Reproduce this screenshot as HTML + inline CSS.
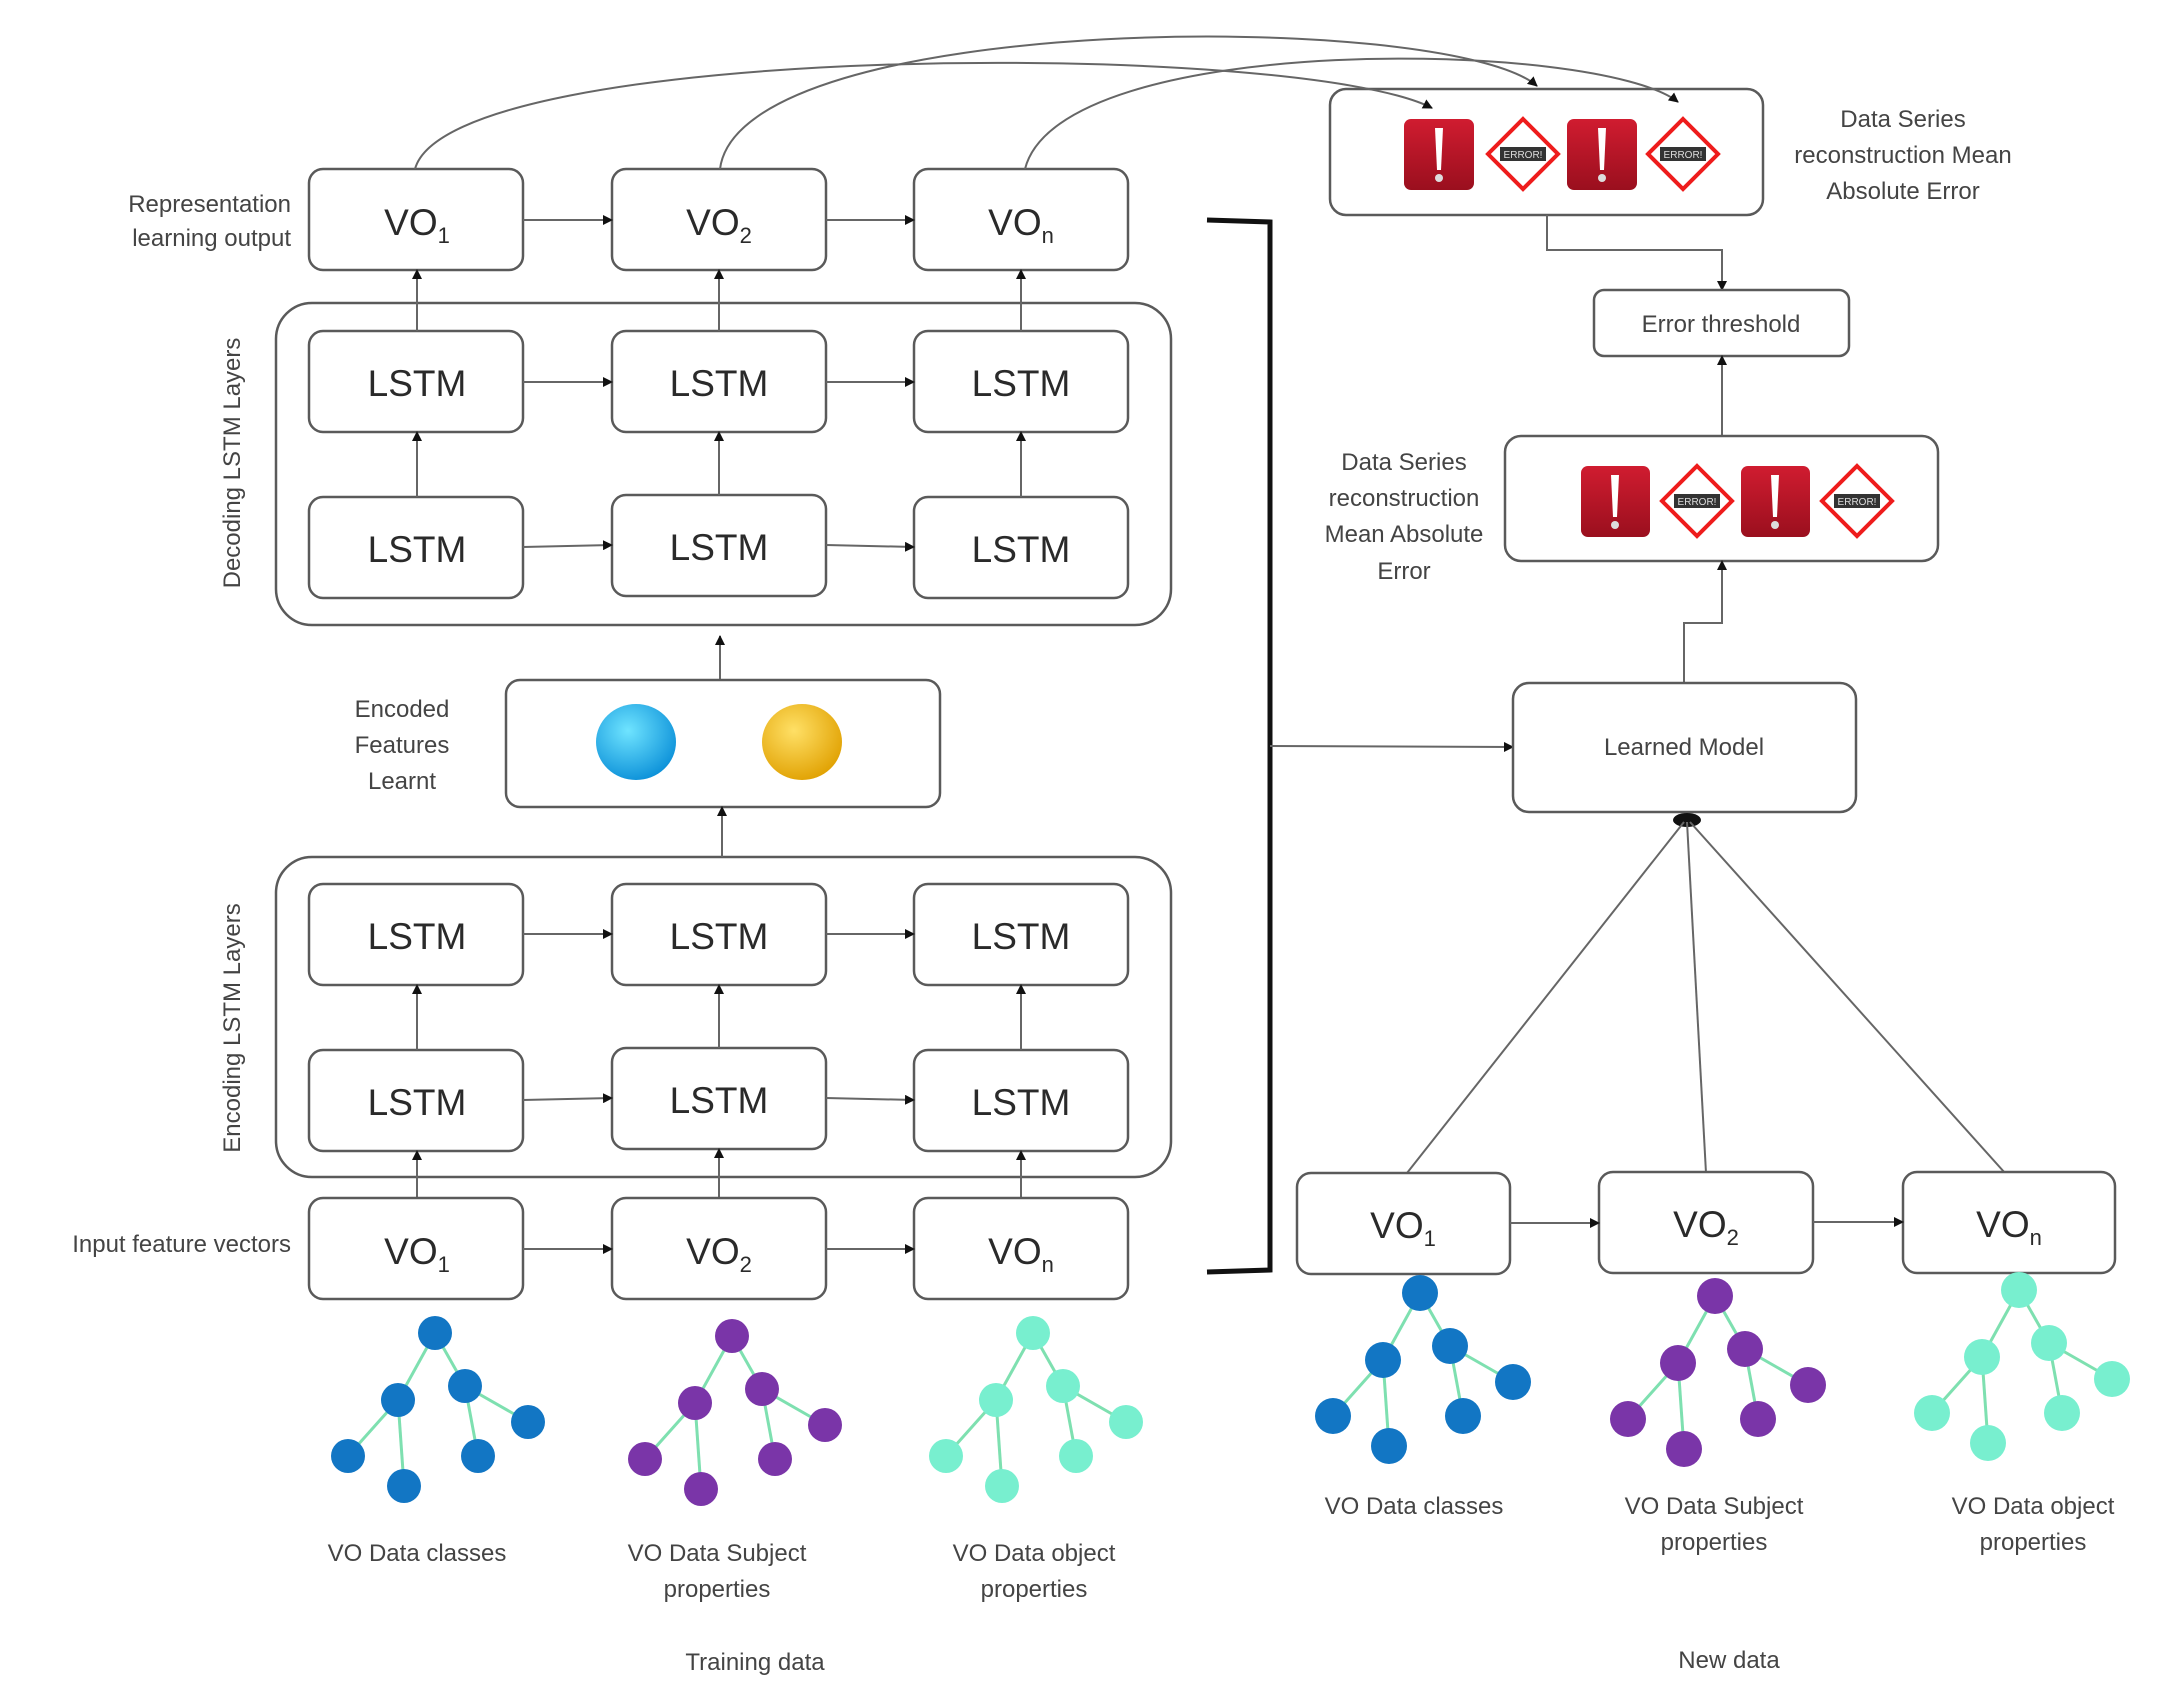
<!DOCTYPE html>
<html><head><meta charset="utf-8"><style>
html,body{margin:0;padding:0;background:#fff;}
svg{display:block;}
text{font-family:"Liberation Sans",sans-serif;}
.lbl{fill:#444;font-size:24px;}
.bx{fill:#fff;stroke:#5a5a5a;stroke-width:2.5;}
.ln{stroke:#666;stroke-width:2;fill:none;}
.vo{font-size:37px;fill:#2a2a2a;}
.sub{font-size:22px;}
.ls{font-size:37px;fill:#2a2a2a;}
.ed{stroke:#7ee0b0;stroke-width:3;}
</style></head><body>
<svg width="2171" height="1708" viewBox="0 0 2171 1708" xmlns="http://www.w3.org/2000/svg">
<defs>
<marker id="ar" markerWidth="10" markerHeight="10" refX="9" refY="5" orient="auto" markerUnits="userSpaceOnUse"><path d="M0,0 L10,5 L0,10 z" fill="#111"/></marker>
<linearGradient id="rg" x1="0" y1="0" x2="0" y2="1"><stop offset="0" stop-color="#d01c30"/><stop offset="1" stop-color="#9a0f1e"/></linearGradient>
<radialGradient id="bg" cx="0.4" cy="0.35" r="0.7"><stop offset="0" stop-color="#6fe4ff"/><stop offset="1" stop-color="#0a8fd8"/></radialGradient>
<radialGradient id="yg" cx="0.4" cy="0.35" r="0.7"><stop offset="0" stop-color="#ffe066"/><stop offset="1" stop-color="#e0a000"/></radialGradient>
</defs>

<!-- left labels -->
<text class="lbl" x="291" y="212" text-anchor="end">Representation</text>
<text class="lbl" x="291" y="246" text-anchor="end">learning output</text>
<text class="lbl" transform="translate(240,463) rotate(-90)" text-anchor="middle">Decoding  LSTM Layers</text>
<text class="lbl" transform="translate(240,1028) rotate(-90)" text-anchor="middle">Encoding LSTM Layers</text>
<text class="lbl" x="402" y="717" text-anchor="middle">Encoded</text>
<text class="lbl" x="402" y="753" text-anchor="middle">Features</text>
<text class="lbl" x="402" y="789" text-anchor="middle">Learnt</text>
<text class="lbl" x="291" y="1252" text-anchor="end">Input feature vectors</text>

<!-- outer layers -->
<rect class="bx" x="276" y="303" width="895" height="322" rx="36"/>
<rect class="bx" x="276" y="857" width="895" height="320" rx="36"/>

<!-- VO output row -->
<rect class="bx" x="309" y="169" width="214" height="101" rx="14"/>
<rect class="bx" x="612" y="169" width="214" height="101" rx="14"/>
<rect class="bx" x="914" y="169" width="214" height="101" rx="14"/>
<text class="vo" x="417" y="235" text-anchor="middle">VO<tspan class="sub" dy="8">1</tspan></text>
<text class="vo" x="719" y="235" text-anchor="middle">VO<tspan class="sub" dy="8">2</tspan></text>
<text class="vo" x="1021" y="235" text-anchor="middle">VO<tspan class="sub" dy="8">n</tspan></text>
<path class="ln" d="M523,220 L612,220" marker-end="url(#ar)"/>
<path class="ln" d="M826,220 L914,220" marker-end="url(#ar)"/>

<!-- decoding LSTM -->
<g>
<rect class="bx" x="309" y="331" width="214" height="101" rx="14"/>
<rect class="bx" x="612" y="331" width="214" height="101" rx="14"/>
<rect class="bx" x="914" y="331" width="214" height="101" rx="14"/>
<rect class="bx" x="309" y="497" width="214" height="101" rx="14"/>
<rect class="bx" x="612" y="495" width="214" height="101" rx="14"/>
<rect class="bx" x="914" y="497" width="214" height="101" rx="14"/>
<text class="ls" x="417" y="396" text-anchor="middle">LSTM</text>
<text class="ls" x="719" y="396" text-anchor="middle">LSTM</text>
<text class="ls" x="1021" y="396" text-anchor="middle">LSTM</text>
<text class="ls" x="417" y="562" text-anchor="middle">LSTM</text>
<text class="ls" x="719" y="560" text-anchor="middle">LSTM</text>
<text class="ls" x="1021" y="562" text-anchor="middle">LSTM</text>
<path class="ln" d="M523,382 L612,382" marker-end="url(#ar)"/>
<path class="ln" d="M826,382 L914,382" marker-end="url(#ar)"/>
<path class="ln" d="M523,547 L612,545" marker-end="url(#ar)"/>
<path class="ln" d="M826,545 L914,547" marker-end="url(#ar)"/>
<path class="ln" d="M417,497 L417,432" marker-end="url(#ar)"/>
<path class="ln" d="M719,495 L719,432" marker-end="url(#ar)"/>
<path class="ln" d="M1021,497 L1021,432" marker-end="url(#ar)"/>
<path class="ln" d="M417,331 L417,270" marker-end="url(#ar)"/>
<path class="ln" d="M719,331 L719,270" marker-end="url(#ar)"/>
<path class="ln" d="M1021,331 L1021,270" marker-end="url(#ar)"/>
</g>

<!-- encoded features -->
<path class="ln" d="M720,680 L720,636" marker-end="url(#ar)"/>
<rect class="bx" x="506" y="680" width="434" height="127" rx="14"/>
<ellipse cx="636" cy="742" rx="40" ry="38" fill="url(#bg)"/>
<ellipse cx="802" cy="742" rx="40" ry="38" fill="url(#yg)"/>
<path class="ln" d="M722,857 L722,807" marker-end="url(#ar)"/>

<!-- encoding LSTM -->
<rect class="bx" x="309" y="884" width="214" height="101" rx="14"/>
<rect class="bx" x="612" y="884" width="214" height="101" rx="14"/>
<rect class="bx" x="914" y="884" width="214" height="101" rx="14"/>
<rect class="bx" x="309" y="1050" width="214" height="101" rx="14"/>
<rect class="bx" x="612" y="1048" width="214" height="101" rx="14"/>
<rect class="bx" x="914" y="1050" width="214" height="101" rx="14"/>
<text class="ls" x="417" y="949" text-anchor="middle">LSTM</text>
<text class="ls" x="719" y="949" text-anchor="middle">LSTM</text>
<text class="ls" x="1021" y="949" text-anchor="middle">LSTM</text>
<text class="ls" x="417" y="1115" text-anchor="middle">LSTM</text>
<text class="ls" x="719" y="1113" text-anchor="middle">LSTM</text>
<text class="ls" x="1021" y="1115" text-anchor="middle">LSTM</text>
<path class="ln" d="M523,934 L612,934" marker-end="url(#ar)"/>
<path class="ln" d="M826,934 L914,934" marker-end="url(#ar)"/>
<path class="ln" d="M523,1100 L612,1098" marker-end="url(#ar)"/>
<path class="ln" d="M826,1098 L914,1100" marker-end="url(#ar)"/>
<path class="ln" d="M417,1050 L417,985" marker-end="url(#ar)"/>
<path class="ln" d="M719,1048 L719,985" marker-end="url(#ar)"/>
<path class="ln" d="M1021,1050 L1021,985" marker-end="url(#ar)"/>
<path class="ln" d="M417,1198 L417,1151" marker-end="url(#ar)"/>
<path class="ln" d="M719,1198 L719,1149" marker-end="url(#ar)"/>
<path class="ln" d="M1021,1198 L1021,1151" marker-end="url(#ar)"/>

<!-- input VO row -->
<rect class="bx" x="309" y="1198" width="214" height="101" rx="14"/>
<rect class="bx" x="612" y="1198" width="214" height="101" rx="14"/>
<rect class="bx" x="914" y="1198" width="214" height="101" rx="14"/>
<text class="vo" x="417" y="1264" text-anchor="middle">VO<tspan class="sub" dy="8">1</tspan></text>
<text class="vo" x="719" y="1264" text-anchor="middle">VO<tspan class="sub" dy="8">2</tspan></text>
<text class="vo" x="1021" y="1264" text-anchor="middle">VO<tspan class="sub" dy="8">n</tspan></text>
<path class="ln" d="M523,1249 L612,1249" marker-end="url(#ar)"/>
<path class="ln" d="M826,1249 L914,1249" marker-end="url(#ar)"/>

<!-- trees: training -->
<g>
<g class="ed"><line x1="435" y1="1333" x2="398" y2="1400"/><line x1="435" y1="1333" x2="465" y2="1386"/><line x1="398" y1="1400" x2="348" y2="1456"/><line x1="398" y1="1400" x2="404" y2="1486"/><line x1="465" y1="1386" x2="528" y2="1422"/><line x1="465" y1="1386" x2="478" y2="1456"/></g>
<g fill="#1276c4"><circle cx="435" cy="1333" r="17"/><circle cx="398" cy="1400" r="17"/><circle cx="465" cy="1386" r="17"/><circle cx="528" cy="1422" r="17"/><circle cx="348" cy="1456" r="17"/><circle cx="404" cy="1486" r="17"/><circle cx="478" cy="1456" r="17"/></g>
</g>
<g transform="translate(297,3)">
<g class="ed"><line x1="435" y1="1333" x2="398" y2="1400"/><line x1="435" y1="1333" x2="465" y2="1386"/><line x1="398" y1="1400" x2="348" y2="1456"/><line x1="398" y1="1400" x2="404" y2="1486"/><line x1="465" y1="1386" x2="528" y2="1422"/><line x1="465" y1="1386" x2="478" y2="1456"/></g>
<g fill="#7a35a8"><circle cx="435" cy="1333" r="17"/><circle cx="398" cy="1400" r="17"/><circle cx="465" cy="1386" r="17"/><circle cx="528" cy="1422" r="17"/><circle cx="348" cy="1456" r="17"/><circle cx="404" cy="1486" r="17"/><circle cx="478" cy="1456" r="17"/></g>
</g>
<g transform="translate(598,0)">
<g class="ed"><line x1="435" y1="1333" x2="398" y2="1400"/><line x1="435" y1="1333" x2="465" y2="1386"/><line x1="398" y1="1400" x2="348" y2="1456"/><line x1="398" y1="1400" x2="404" y2="1486"/><line x1="465" y1="1386" x2="528" y2="1422"/><line x1="465" y1="1386" x2="478" y2="1456"/></g>
<g fill="#78efcf"><circle cx="435" cy="1333" r="17"/><circle cx="398" cy="1400" r="17"/><circle cx="465" cy="1386" r="17"/><circle cx="528" cy="1422" r="17"/><circle cx="348" cy="1456" r="17"/><circle cx="404" cy="1486" r="17"/><circle cx="478" cy="1456" r="17"/></g>
</g>
<text class="lbl" x="417" y="1561" text-anchor="middle">VO Data classes</text>
<text class="lbl" x="717" y="1561" text-anchor="middle">VO Data Subject</text>
<text class="lbl" x="717" y="1597" text-anchor="middle">properties</text>
<text class="lbl" x="1034" y="1561" text-anchor="middle">VO Data object</text>
<text class="lbl" x="1034" y="1597" text-anchor="middle">properties</text>
<text class="lbl" x="755" y="1670" text-anchor="middle">Training data</text>

<!-- bracket -->
<path d="M1207,220 L1270,222 L1270,1270 L1207,1272" fill="none" stroke="#111" stroke-width="5"/>
<path class="ln" d="M1270,746 L1513,747" marker-end="url(#ar)"/>

<!-- top error box -->
<rect class="bx" x="1330" y="89" width="433" height="126" rx="16"/>
<g>
<rect x="1404" y="119" width="70" height="71" rx="7" fill="url(#rg)"/>
<path d="M1435,128 L1443,128 L1441,170 L1437,170 z" fill="#fff"/><circle cx="1439" cy="178" r="4" fill="#ddd"/>
<path d="M1523,119 L1558,154 L1523,189 L1488,154 z" fill="#fff" stroke="#ee1c1c" stroke-width="4"/>
<rect x="1500" y="147" width="46" height="14" fill="#333"/><text x="1523" y="158" font-size="10" fill="#ddd" text-anchor="middle">ERROR!</text>
<rect x="1567" y="119" width="70" height="71" rx="7" fill="url(#rg)"/>
<path d="M1598,128 L1606,128 L1604,170 L1600,170 z" fill="#fff"/><circle cx="1602" cy="178" r="4" fill="#ddd"/>
<path d="M1683,119 L1718,154 L1683,189 L1648,154 z" fill="#fff" stroke="#ee1c1c" stroke-width="4"/>
<rect x="1660" y="147" width="46" height="14" fill="#333"/><text x="1683" y="158" font-size="10" fill="#ddd" text-anchor="middle">ERROR!</text>
</g>
<!-- top curves (drawn over the box) -->
<path class="ln" d="M415,169 C450,40 1300,40 1432,108" marker-end="url(#ar)"/>
<path class="ln" d="M720,169 C740,10 1450,10 1537,86" marker-end="url(#ar)"/>
<path class="ln" d="M1025,169 C1060,30 1600,40 1678,102" marker-end="url(#ar)"/>

<text class="lbl" x="1903" y="127" text-anchor="middle">Data Series</text>
<text class="lbl" x="1903" y="163" text-anchor="middle">reconstruction Mean</text>
<text class="lbl" x="1903" y="199" text-anchor="middle">Absolute Error</text>

<path class="ln" d="M1547,215 L1547,250 L1722,250 L1722,290" marker-end="url(#ar)"/>
<rect class="bx" x="1594" y="290" width="255" height="66" rx="10"/>
<text class="lbl" x="1721" y="332" text-anchor="middle">Error threshold</text>
<path class="ln" d="M1722,436 L1722,356" marker-end="url(#ar)"/>

<!-- middle error box -->
<rect class="bx" x="1505" y="436" width="433" height="125" rx="16"/>
<g>
<rect x="1581" y="466" width="69" height="71" rx="7" fill="url(#rg)"/>
<path d="M1611,475 L1619,475 L1617,517 L1613,517 z" fill="#fff"/><circle cx="1615" cy="525" r="4" fill="#ddd"/>
<path d="M1697,466 L1732,501 L1697,536 L1662,501 z" fill="#fff" stroke="#ee1c1c" stroke-width="4"/>
<rect x="1674" y="494" width="46" height="14" fill="#333"/><text x="1697" y="505" font-size="10" fill="#ddd" text-anchor="middle">ERROR!</text>
<rect x="1741" y="466" width="69" height="71" rx="7" fill="url(#rg)"/>
<path d="M1771,475 L1779,475 L1777,517 L1773,517 z" fill="#fff"/><circle cx="1775" cy="525" r="4" fill="#ddd"/>
<path d="M1857,466 L1892,501 L1857,536 L1822,501 z" fill="#fff" stroke="#ee1c1c" stroke-width="4"/>
<rect x="1834" y="494" width="46" height="14" fill="#333"/><text x="1857" y="505" font-size="10" fill="#ddd" text-anchor="middle">ERROR!</text>
</g>
<text class="lbl" x="1404" y="470" text-anchor="middle">Data Series</text>
<text class="lbl" x="1404" y="506" text-anchor="middle">reconstruction</text>
<text class="lbl" x="1404" y="542" text-anchor="middle">Mean Absolute</text>
<text class="lbl" x="1404" y="579" text-anchor="middle">Error</text>

<path class="ln" d="M1684,683 L1684,623 L1722,623 L1722,561" marker-end="url(#ar)"/>
<rect class="bx" x="1513" y="683" width="343" height="129" rx="16"/>
<text class="lbl" x="1684" y="755" text-anchor="middle">Learned Model</text>
<ellipse cx="1687" cy="820" rx="14" ry="7" fill="#111"/>

<!-- new data -->
<path class="ln" d="M1407,1173 L1684,822"/>
<path class="ln" d="M1706,1173 L1687,822"/>
<path class="ln" d="M2005,1173 L1690,822"/>
<rect class="bx" x="1297" y="1173" width="213" height="101" rx="14"/>
<rect class="bx" x="1599" y="1172" width="214" height="101" rx="14"/>
<rect class="bx" x="1903" y="1172" width="212" height="101" rx="14"/>
<text class="vo" x="1403" y="1238" text-anchor="middle">VO<tspan class="sub" dy="8">1</tspan></text>
<text class="vo" x="1706" y="1237" text-anchor="middle">VO<tspan class="sub" dy="8">2</tspan></text>
<text class="vo" x="2009" y="1237" text-anchor="middle">VO<tspan class="sub" dy="8">n</tspan></text>
<path class="ln" d="M1510,1223 L1599,1223" marker-end="url(#ar)"/>
<path class="ln" d="M1813,1222 L1903,1222" marker-end="url(#ar)"/>

<g transform="translate(985,-40)">
<g class="ed"><line x1="435" y1="1333" x2="398" y2="1400"/><line x1="435" y1="1333" x2="465" y2="1386"/><line x1="398" y1="1400" x2="348" y2="1456"/><line x1="398" y1="1400" x2="404" y2="1486"/><line x1="465" y1="1386" x2="528" y2="1422"/><line x1="465" y1="1386" x2="478" y2="1456"/></g>
<g fill="#1276c4"><circle cx="435" cy="1333" r="18"/><circle cx="398" cy="1400" r="18"/><circle cx="465" cy="1386" r="18"/><circle cx="528" cy="1422" r="18"/><circle cx="348" cy="1456" r="18"/><circle cx="404" cy="1486" r="18"/><circle cx="478" cy="1456" r="18"/></g>
</g>
<g transform="translate(1280,-37)">
<g class="ed"><line x1="435" y1="1333" x2="398" y2="1400"/><line x1="435" y1="1333" x2="465" y2="1386"/><line x1="398" y1="1400" x2="348" y2="1456"/><line x1="398" y1="1400" x2="404" y2="1486"/><line x1="465" y1="1386" x2="528" y2="1422"/><line x1="465" y1="1386" x2="478" y2="1456"/></g>
<g fill="#7a35a8"><circle cx="435" cy="1333" r="18"/><circle cx="398" cy="1400" r="18"/><circle cx="465" cy="1386" r="18"/><circle cx="528" cy="1422" r="18"/><circle cx="348" cy="1456" r="18"/><circle cx="404" cy="1486" r="18"/><circle cx="478" cy="1456" r="18"/></g>
</g>
<g transform="translate(1584,-43)">
<g class="ed"><line x1="435" y1="1333" x2="398" y2="1400"/><line x1="435" y1="1333" x2="465" y2="1386"/><line x1="398" y1="1400" x2="348" y2="1456"/><line x1="398" y1="1400" x2="404" y2="1486"/><line x1="465" y1="1386" x2="528" y2="1422"/><line x1="465" y1="1386" x2="478" y2="1456"/></g>
<g fill="#78efcf"><circle cx="435" cy="1333" r="18"/><circle cx="398" cy="1400" r="18"/><circle cx="465" cy="1386" r="18"/><circle cx="528" cy="1422" r="18"/><circle cx="348" cy="1456" r="18"/><circle cx="404" cy="1486" r="18"/><circle cx="478" cy="1456" r="18"/></g>
</g>
<text class="lbl" x="1414" y="1514" text-anchor="middle">VO Data classes</text>
<text class="lbl" x="1714" y="1514" text-anchor="middle">VO Data Subject</text>
<text class="lbl" x="1714" y="1550" text-anchor="middle">properties</text>
<text class="lbl" x="2033" y="1514" text-anchor="middle">VO Data object</text>
<text class="lbl" x="2033" y="1550" text-anchor="middle">properties</text>
<text class="lbl" x="1729" y="1668" text-anchor="middle">New data</text>
</svg>
</body></html>
